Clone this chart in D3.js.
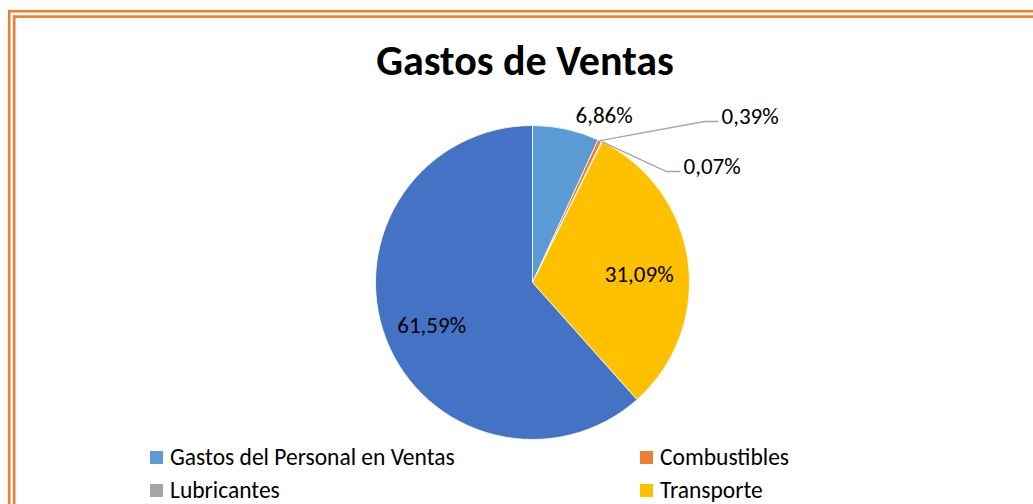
<!DOCTYPE html>
<html>
<head>
  <meta charset="utf-8">
  <title>Gastos de Ventas</title>
  <style>
    body { margin: 0; background: #fff; }
    text { font-family: Carlito, Calibri, Lato, sans-serif; fill: #000; }
  </style>
  <script src="https://d3js.org/d3.v7.min.js"></script>
</head>
<body>
<svg width="1033" height="504"></svg>
<script>
// data (clockwise from 12 o'clock)
var categories = ["Gastos del Personal en Ventas", "Combustibles", "Lubricantes", "Transporte", "Otros"];
var values = [6.86, 0.39, 0.07, 31.09, 61.59];
var labels = ["6,86%", "0,39%", "0,07%", "31,09%", "61,59%"];
var colors = ["#5B9BD5", "#ED7D31", "#A5A5A5", "#FFC000", "#4472C4"];
var legendItems = [0, 1, 2, 3]; // the fifth legend entry is cut off in the original

var svg = d3.select("svg");

// double orange frame, running off the right and bottom edges
svg.append("rect").attr("x", 9.2).attr("y", 11.2).attr("width", 1100).attr("height", 600)
    .attr("fill", "none").attr("stroke", "#ED7D31").attr("stroke-width", 2.6);
svg.append("rect").attr("x", 14.2).attr("y", 16.6).attr("width", 1100).attr("height", 600)
    .attr("fill", "none").attr("stroke", "#ED7D31").attr("stroke-width", 2.6);

svg.append("text")
    .attr("x", 525).attr("y", 75)
    .attr("text-anchor", "middle")
    .style("font-size", "42px").style("font-weight", "bold")
    .text("Gastos de Ventas");

var cx = 532.5, cy = 282.5, r = 157;
var g = svg.append("g").attr("transform", "translate(" + cx + "," + cy + ")");

var pie = d3.pie().sort(null).value(function(d) { return d; });
var arcs = pie(values);
var arc = d3.arc().innerRadius(0).outerRadius(r);

g.selectAll("path.slice")
  .data(arcs)
  .enter().append("path")
    .attr("class", "slice")
    .attr("d", arc)
    .attr("fill", function(d, i) { return colors[i]; })
    .attr("stroke", "#fff")
    .attr("stroke-width", 0.8);

// label placement
var inner = d3.arc().innerRadius(r * 0.66).outerRadius(r * 0.66);
function edge(d) {
  var a = (d.startAngle + d.endAngle) / 2;
  return [r * Math.sin(a), -r * Math.cos(a)];
}
var labelFont = "23px";

// 6,86% sits just outside its slice
var c0 = edge(arcs[0]);
g.append("text")
    .attr("x", c0[0] + 38).attr("y", c0[1] - 6)
    .attr("text-anchor", "middle").style("font-size", labelFont)
    .text(labels[0]);

// small slices get leader lines
var leader = [
  {i: 1, elbow: [172, -161], end: [186, -161], dy: 2},
  {i: 2, elbow: [134, -111], end: [148, -111], dy: 2.5}
];
leader.forEach(function(L) {
  var p = edge(arcs[L.i]);
  g.append("polyline")
      .attr("points", [p, L.elbow, L.end].map(function(q) { return q.join(","); }).join(" "))
      .attr("fill", "none").attr("stroke", "#A6A6A6").attr("stroke-width", 1.3);
  g.append("text")
      .attr("x", L.end[0] + 3).attr("y", L.end[1] + L.dy)
      .style("font-size", labelFont)
      .text(labels[L.i]);
});

var nudge = {3: [4, 13], 4: [-4, 14]};
[3, 4].forEach(function(i) {
  var c = inner.centroid(arcs[i]);
  g.append("text")
      .attr("x", c[0] + nudge[i][0]).attr("y", c[1] + nudge[i][1])
      .attr("text-anchor", "middle").style("font-size", labelFont)
      .text(labels[i]);
});

// legend
var legendX = [150, 640], legendY = [457, 490];
var leg = svg.selectAll("g.legend")
  .data(legendItems)
  .enter().append("g")
    .attr("class", "legend")
    .attr("transform", function(d, k) {
      return "translate(" + legendX[k % 2] + "," + legendY[Math.floor(k / 2)] + ")";
    });
leg.append("rect")
    .attr("x", 0).attr("y", -6).attr("width", 13).attr("height", 13)
    .attr("fill", function(d) { return colors[d]; });
leg.append("text")
    .attr("x", 20).attr("y", 8)
    .style("font-size", "23.5px")
    .text(function(d) { return categories[d]; });
</script>
</body>
</html>
